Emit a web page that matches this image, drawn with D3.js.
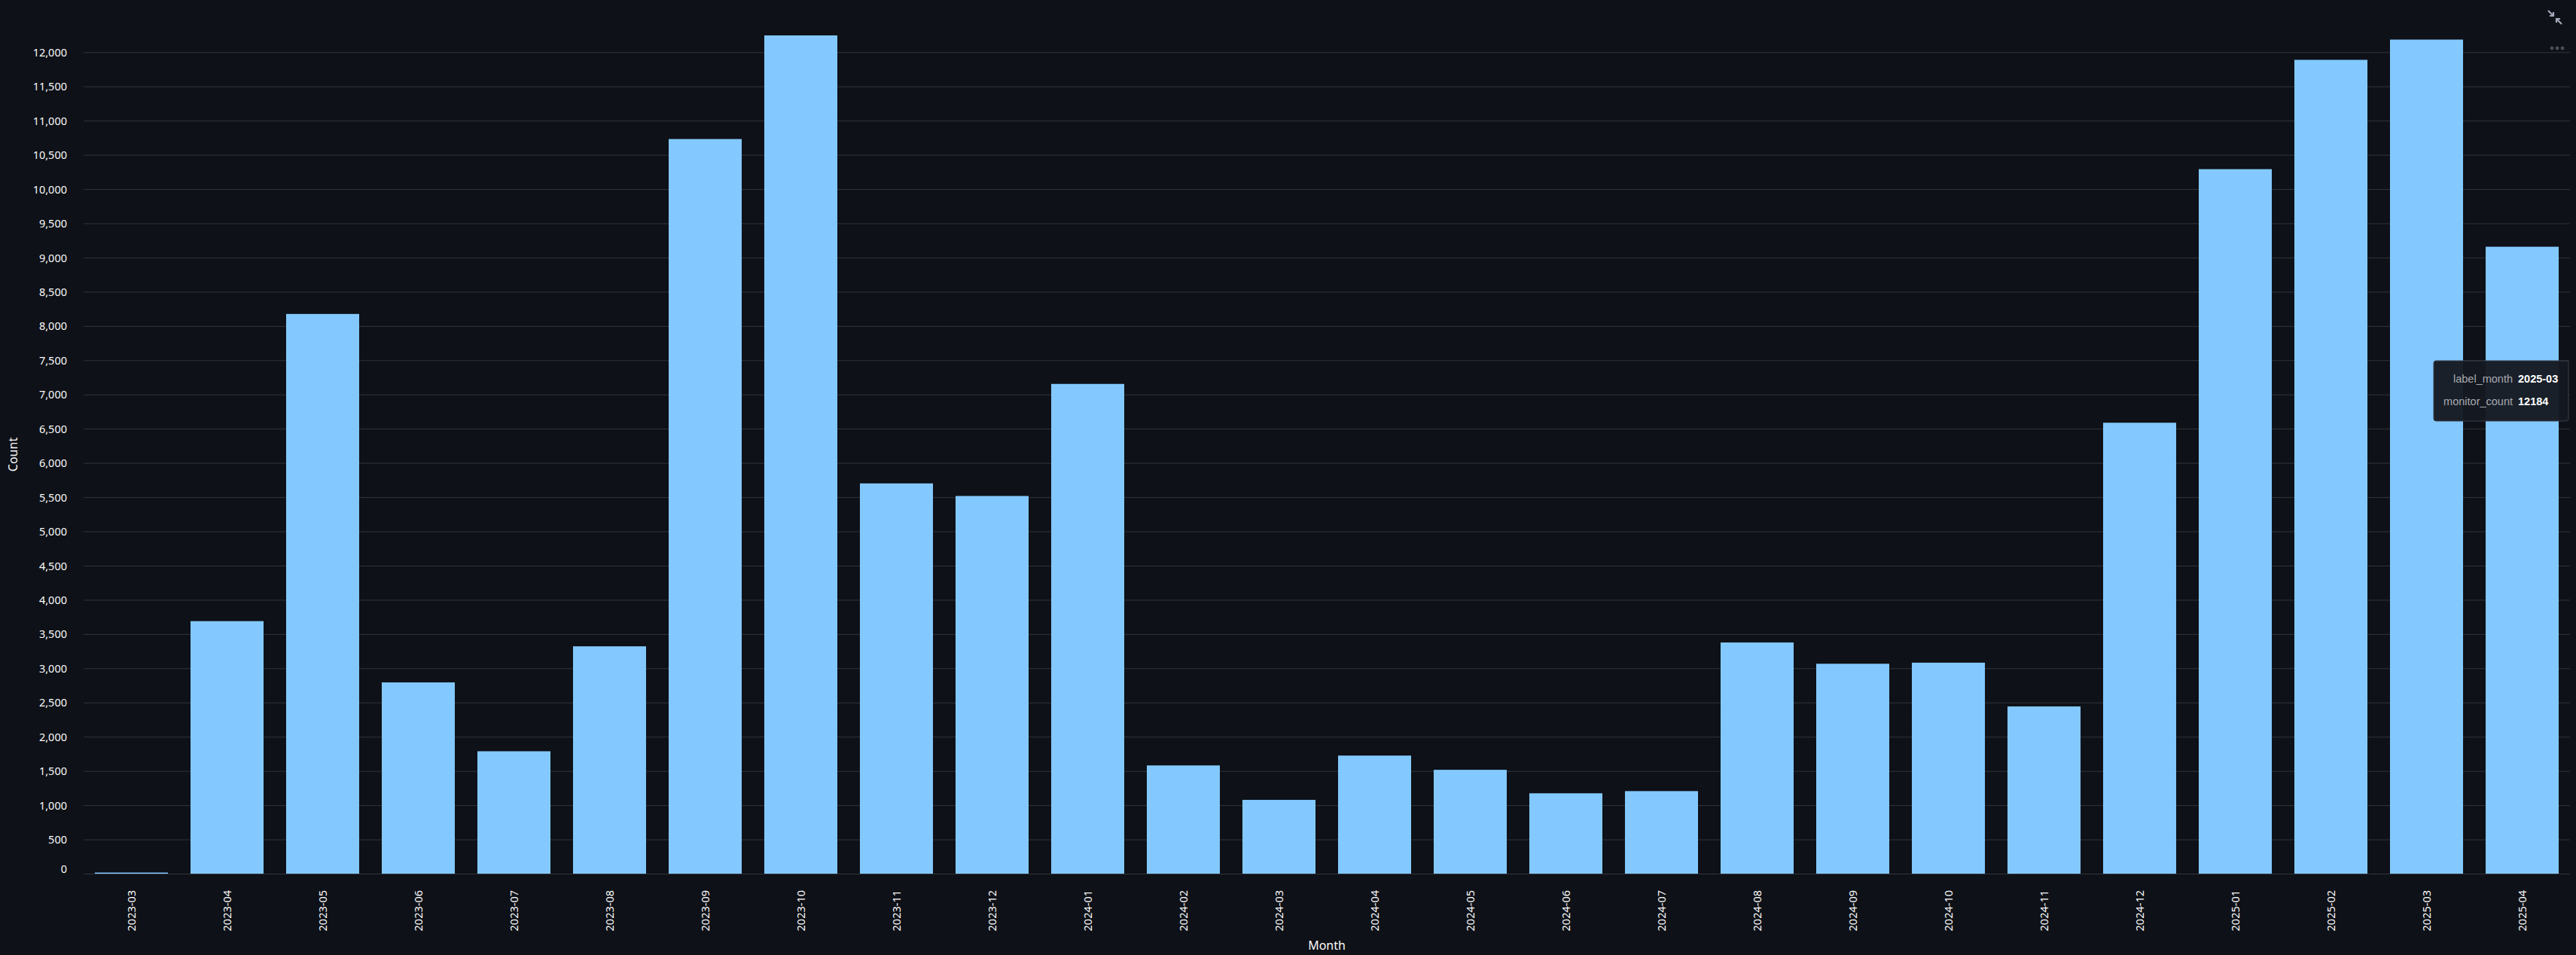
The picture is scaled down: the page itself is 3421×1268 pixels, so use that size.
<!DOCTYPE html>
<html>
<head>
<meta charset="utf-8">
<script src="https://cdn.jsdelivr.net/npm/d3@7"></script>
<style>
  html, body { margin: 0; padding: 0; background: #0e1117; overflow: hidden; }
  svg { display: block; }
</style>
</head>
<body>
<svg id="chart" width="3421" height="1268"></svg>
<script>
// ---- Data ----
const months = [
  "2023-03","2023-04","2023-05","2023-06","2023-07","2023-08","2023-09","2023-10",
  "2023-11","2023-12","2024-01","2024-02","2024-03","2024-04","2024-05","2024-06",
  "2024-07","2024-08","2024-09","2024-10","2024-11","2024-12","2025-01","2025-02",
  "2025-03","2025-04"
];
const monitorCounts = [
  16, 3689, 8176, 2794, 1788, 3321, 10731, 12245,
  5701, 5517, 7154, 1581, 1078, 1725, 1517, 1174,
  1206, 3377, 3066, 3082, 2443, 6587, 10291, 11888,
  12184, 9158
];
const yTicks = d3.range(0, 12001, 500);
const xTitle = "Month";
const yTitle = "Count";
const tooltipMonth = "2025-03";

// ---- Layout ----
const W = 3421, H = 1268;
const plot = { left: 111, right: 3413, top: 47, bottom: 1160 };
const font = "'Noto Sans', 'Open Sans', sans-serif";
const textColor = "#fafafa";
const gridColor = "#31343d";
const barColor = "#83c9ff";

const svg = d3.select("#chart");
svg.append("rect").attr("width", W).attr("height", H).attr("fill", "#0e1117");

const x = d3.scaleBand().domain(months).range([plot.left, plot.right])
  .paddingInner(0.236).paddingOuter(0.118);
const y = d3.scaleLinear().domain([0, d3.max(monitorCounts)]).range([plot.bottom, plot.top]);

// grid + y labels
const yAxis = d3.axisLeft(y).tickValues(yTicks).tickFormat(d3.format(","))
  .tickSize(-(plot.right - plot.left)).tickPadding(22);
const gy = svg.append("g").attr("transform", `translate(${plot.left},0)`).call(yAxis);
gy.select(".domain").remove();
gy.selectAll(".tick line").attr("stroke", gridColor).attr("stroke-width", 1);
gy.selectAll(".tick text").attr("fill", textColor).attr("font-family", font)
  .attr("font-size", 14.5).attr("x", -22)
  .attr("dy", d => d === 0 ? "-0.12em" : "0.35em");

// bars
const data = months.map((m, i) => ({ month: m, value: monitorCounts[i] }));
svg.append("g").selectAll("rect").data(data).join("rect")
  .attr("x", d => x(d.month))
  .attr("y", d => y(d.value))
  .attr("width", x.bandwidth())
  .attr("height", d => plot.bottom - y(d.value))
  .attr("fill", barColor);

// x labels
const xAxis = d3.axisBottom(x).tickSize(0).tickPadding(0);
const gx = svg.append("g").attr("transform", `translate(0,${plot.bottom})`).call(xAxis);
gx.select(".domain").remove();
gx.selectAll(".tick text")
  .attr("fill", textColor).attr("font-family", font).attr("font-size", 14.5)
  .attr("text-anchor", "end")
  .attr("transform", "translate(0,22) rotate(-90)")
  .attr("x", 0).attr("y", 0).attr("dy", "0.36em");

// axis titles
svg.append("text")
  .attr("x", (plot.left + plot.right) / 2).attr("y", 1261)
  .attr("text-anchor", "middle").attr("fill", textColor)
  .attr("font-family", font).attr("font-size", 16).text(xTitle);
svg.append("text")
  .attr("transform", `translate(22.5,${(plot.top + plot.bottom) / 2}) rotate(-90)`)
  .attr("text-anchor", "middle").attr("fill", textColor)
  .attr("font-family", font).attr("font-size", 16).text(yTitle);

// top-right icons: collapse (fullscreen exit) + more dots
const icon = svg.append("g").attr("transform", "translate(3393,23)");
icon.append("path").attr("d", "M-9,-9 L-2,-2 M-2,-7 L-2,-2 L-7,-2").attr("stroke", "#a3a8b8")
  .attr("stroke-width", 2.2).attr("fill", "none");
icon.append("path").attr("d", "M9,9 L2,2 M2,7 L2,2 L7,2").attr("stroke", "#a3a8b8")
  .attr("stroke-width", 2.2).attr("fill", "none");
const dots = svg.append("g").attr("transform", "translate(3396,64)");
[-7, 0, 7].forEach(dx => dots.append("circle").attr("cx", dx).attr("cy", 0).attr("r", 2.4).attr("fill", "#4a4d57"));

// tooltip
const tipVal = monitorCounts[months.indexOf(tooltipMonth)];
const tip = svg.append("g").attr("transform", "translate(3232,479)");
tip.append("rect").attr("x", 0).attr("y", 0).attr("width", 179).attr("height", 80).attr("rx", 3)
  .attr("fill", "rgba(21,25,33,0.96)").attr("stroke", "#3a3e48").attr("stroke-width", 1);
const tipFont = "'Liberation Sans', Arial, sans-serif";
[["label_month", tooltipMonth, 24], ["monitor_count", String(tipVal), 54]].forEach(([k, v, cy]) => {
  tip.append("text").attr("x", 105).attr("y", cy).attr("dy", "0.35em").attr("text-anchor", "end")
    .attr("fill", "#a8aab0").attr("font-family", tipFont).attr("font-size", 14.5).text(k);
  tip.append("text").attr("x", 112).attr("y", cy).attr("dy", "0.35em").attr("text-anchor", "start")
    .attr("fill", "#ffffff").attr("font-family", tipFont).attr("font-weight", "bold")
    .attr("font-size", 14.5).text(v);
});
</script>
</body>
</html>
